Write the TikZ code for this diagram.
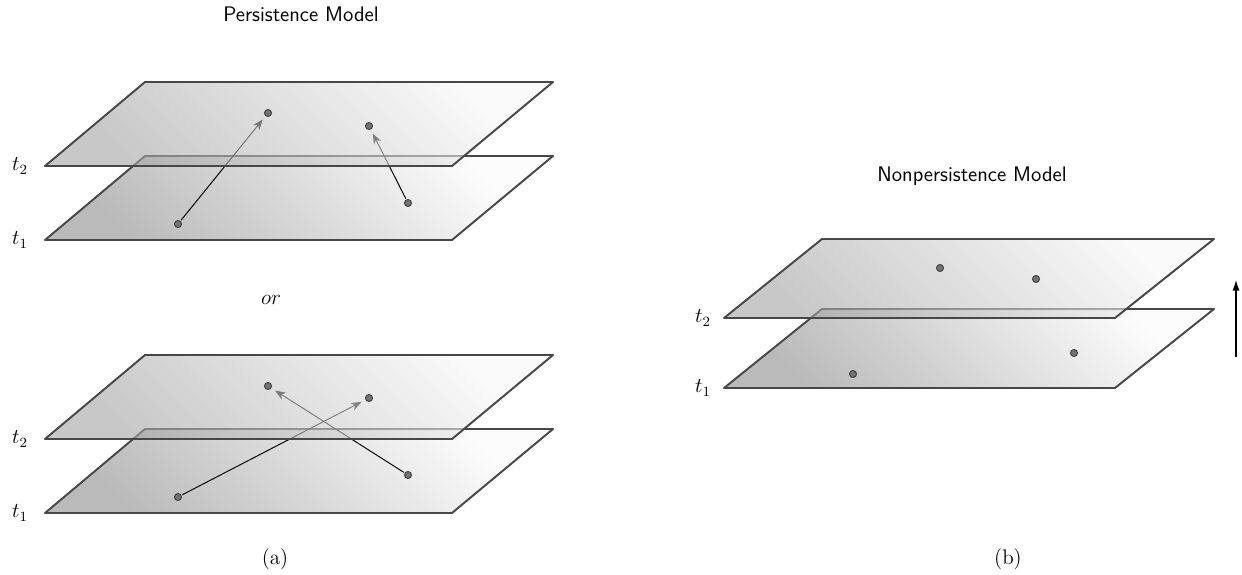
\documentclass[tikz,border=0pt]{standalone}
\usetikzlibrary{arrows.meta}
\pgfdeclarelayer{lA}\pgfdeclarelayer{lB}\pgfdeclarelayer{lC}\pgfdeclarelayer{lD}
\pgfsetlayers{lA,lB,lC,lD,main}
\begin{document}
\begin{tikzpicture}[x=0.02cm,y=-0.02cm,
  planeedge/.style={draw=black!72, line width=1.1pt, line join=round},
  lowshade/.style={shading=axis, bottom color=black!27, top color=black!1, shading angle=-45},
  topshade/.style={shading=axis, bottom color=black!36, top color=black!3, shading angle=-45, fill opacity=0.6},
  dot/.style={circle, draw=black!75, fill=black!55, inner sep=0pt, minimum size=4pt, line width=0.55pt},
  mv/.style={-{Stealth[length=6pt,width=4.6pt]}, line width=0.55pt, black, shorten >=2.5pt, shorten <=0.5pt},
  tlab/.style={font=\large},
  titletext/.style={font=\sffamily\large},
  captext/.style={font=\large}]
\useasboundingbox (0,0) rectangle (1242,575);

% ---------------- figure (a), upper pair ----------------
\begin{pgfonlayer}{lA}
  \shade[lowshade] (45,240) -- (452,240) -- (553,156) -- (145,156) -- cycle;
  \draw[planeedge] (45,240) -- (452,240) -- (553,156) -- (145,156) -- cycle;
\end{pgfonlayer}
\begin{pgfonlayer}{lB}
  \node[dot] (p1) at (178,224) {};
  \node[dot] (p2) at (408,203) {};
\end{pgfonlayer}
\node[dot] (q1) at (268,113) {};
\node[dot] (q2) at (369,126) {};
\begin{pgfonlayer}{lC}
  \draw[mv] (p1) -- (q1);
  \draw[mv] (p2) -- (q2);
\end{pgfonlayer}
\begin{pgfonlayer}{lD}
  \shade[topshade] (45,166) -- (452,166) -- (553,82) -- (145,82) -- cycle;
  \draw[planeedge] (45,166) -- (452,166) -- (553,82) -- (145,82) -- cycle;
\end{pgfonlayer}
\node[tlab] (ta2) at (20,166) {$t_2$};
\node[tlab] (ta1) at (20,240) {$t_1$};
\node[titletext] (ttl1) at (301,14) {Persistence Model};
\node[tlab] (or) at (271,300) {$or$};

% ---------------- figure (a), lower pair ----------------
\begin{pgfonlayer}{lA}
  \shade[lowshade] (45,513) -- (452,513) -- (553,429) -- (145,429) -- cycle;
  \draw[planeedge] (45,513) -- (452,513) -- (553,429) -- (145,429) -- cycle;
\end{pgfonlayer}
\begin{pgfonlayer}{lB}
  \node[dot] (r1) at (178,497) {};
  \node[dot] (r2) at (408,475) {};
\end{pgfonlayer}
\node[dot] (s1) at (268,386) {};
\node[dot] (s2) at (369,398) {};
\begin{pgfonlayer}{lC}
  \draw[mv] (r1) -- (s2);
  \draw[mv] (r2) -- (s1);
\end{pgfonlayer}
\begin{pgfonlayer}{lD}
  \shade[topshade] (45,439) -- (452,439) -- (553,355) -- (145,355) -- cycle;
  \draw[planeedge] (45,439) -- (452,439) -- (553,355) -- (145,355) -- cycle;
\end{pgfonlayer}
\node[tlab] (tb2) at (20,439) {$t_2$};
\node[tlab] (tb1) at (20,513) {$t_1$};
\node[captext] (capa) at (275,559) {(a)};

% ---------------- figure (b) ----------------
\begin{pgfonlayer}{lA}
  \shade[lowshade] (724,388) -- (1115,388) -- (1214,309) -- (822,309) -- cycle;
  \draw[planeedge] (724,388) -- (1115,388) -- (1214,309) -- (822,309) -- cycle;
\end{pgfonlayer}
\begin{pgfonlayer}{lB}
  \node[dot] (u1) at (853,374) {};
  \node[dot] (u2) at (1074,353) {};
\end{pgfonlayer}
\begin{pgfonlayer}{lD}
  \shade[topshade] (724,318) -- (1115,318) -- (1214,239) -- (822,239) -- cycle;
  \draw[planeedge] (724,318) -- (1115,318) -- (1214,239) -- (822,239) -- cycle;
\end{pgfonlayer}
\node[dot] (v1) at (940,268) {};
\node[dot] (v2) at (1036,279) {};
\node[tlab] (tc2) at (703,318) {$t_2$};
\node[tlab] (tc1) at (703,388) {$t_1$};
\node[titletext] (ttl2) at (972,176) {Nonpersistence Model};
\coordinate (ax0) at (1236,357);
\coordinate (ax1) at (1236,280);
\draw[-{Latex[length=6pt,width=4pt]}, line width=0.7pt] (ax0) -- (ax1);
\node[captext] (capb) at (1008,559) {(b)};
\end{tikzpicture}
\end{document}
